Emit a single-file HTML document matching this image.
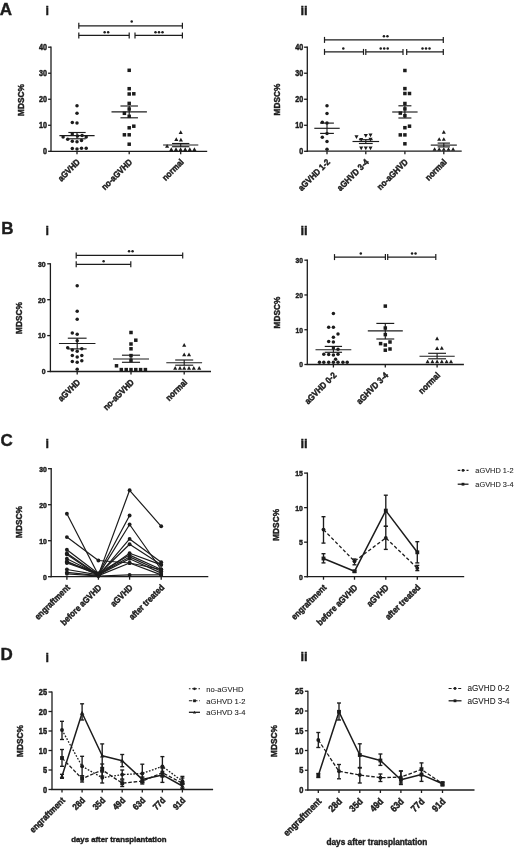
<!DOCTYPE html>
<html><head><meta charset="utf-8"><style>
html,body{margin:0;padding:0;background:#fff;}
body{width:520px;height:853px;overflow:hidden;}
svg{display:block;will-change:transform;filter:blur(0.35px);}
text{font-family:"Liberation Sans", sans-serif;fill:#1c1c1c;stroke:#1c1c1c;stroke-width:0.4px;}
</style></head><body>
<svg width="520" height="853" viewBox="0 0 520 853">
<rect width="520" height="853" fill="#fff"/>
<text x="-0.20" y="15.00" font-size="17.0" font-weight="bold" text-anchor="start">A</text>
<text x="45.40" y="15.20" font-size="12.5" font-weight="bold" text-anchor="start">i</text>
<text x="300.40" y="15.00" font-size="13" font-weight="bold" text-anchor="start">ii</text>
<text x="1.20" y="234.30" font-size="17.0" font-weight="bold" text-anchor="start">B</text>
<text x="45.60" y="234.60" font-size="12.5" font-weight="bold" text-anchor="start">i</text>
<text x="300.40" y="234.80" font-size="13" font-weight="bold" text-anchor="start">ii</text>
<text x="0.40" y="446.30" font-size="17.0" font-weight="bold" text-anchor="start">C</text>
<text x="45.60" y="447.60" font-size="12.5" font-weight="bold" text-anchor="start">i</text>
<text x="300.40" y="447.80" font-size="13" font-weight="bold" text-anchor="start">ii</text>
<text x="0.60" y="659.90" font-size="17.0" font-weight="bold" text-anchor="start">D</text>
<text x="45.60" y="662.00" font-size="12.5" font-weight="bold" text-anchor="start">i</text>
<text x="300.40" y="661.20" font-size="13" font-weight="bold" text-anchor="start">ii</text>
<line x1="51.00" y1="46.60" x2="51.00" y2="151.90" stroke="#1c1c1c" stroke-width="1.3"/>
<line x1="48.10" y1="47.20" x2="51.00" y2="47.20" stroke="#1c1c1c" stroke-width="1.3"/>
<text x="0" y="0" font-size="7.2" font-weight="bold" text-anchor="end" transform="translate(47.00 50.22) rotate(0) scale(1 1.17)">40</text>
<line x1="48.10" y1="73.23" x2="51.00" y2="73.23" stroke="#1c1c1c" stroke-width="1.3"/>
<text x="0" y="0" font-size="7.2" font-weight="bold" text-anchor="end" transform="translate(47.00 76.24) rotate(0) scale(1 1.17)">30</text>
<line x1="48.10" y1="99.25" x2="51.00" y2="99.25" stroke="#1c1c1c" stroke-width="1.3"/>
<text x="0" y="0" font-size="7.2" font-weight="bold" text-anchor="end" transform="translate(47.00 102.27) rotate(0) scale(1 1.17)">20</text>
<line x1="48.10" y1="125.28" x2="51.00" y2="125.28" stroke="#1c1c1c" stroke-width="1.3"/>
<text x="0" y="0" font-size="7.2" font-weight="bold" text-anchor="end" transform="translate(47.00 128.29) rotate(0) scale(1 1.17)">10</text>
<line x1="48.10" y1="151.30" x2="51.00" y2="151.30" stroke="#1c1c1c" stroke-width="1.3"/>
<text x="0" y="0" font-size="7.2" font-weight="bold" text-anchor="end" transform="translate(47.00 154.32) rotate(0) scale(1 1.17)">0</text>
<text x="0" y="0" font-size="8.3" font-weight="bold" text-anchor="middle" transform="translate(23.72 100.00) rotate(-90) scale(1 1.15)">MDSC%</text>
<line x1="50.40" y1="151.30" x2="207.20" y2="151.30" stroke="#1c1c1c" stroke-width="1.3"/>
<line x1="77.00" y1="151.30" x2="77.00" y2="154.30" stroke="#1c1c1c" stroke-width="1.3"/>
<line x1="129.20" y1="151.30" x2="129.20" y2="154.30" stroke="#1c1c1c" stroke-width="1.3"/>
<line x1="180.70" y1="151.30" x2="180.70" y2="154.30" stroke="#1c1c1c" stroke-width="1.3"/>
<text x="0" y="0" font-size="7.9" font-weight="bold" text-anchor="end" transform="translate(80.60 162.70) rotate(-45) scale(1 1.12)">aGVHD</text>
<text x="0" y="0" font-size="7.9" font-weight="bold" text-anchor="end" transform="translate(132.80 162.70) rotate(-45) scale(1 1.12)">no-aGVHD</text>
<text x="0" y="0" font-size="7.9" font-weight="bold" text-anchor="end" transform="translate(184.30 162.70) rotate(-45) scale(1 1.12)">normal</text>
<line x1="78.80" y1="25.80" x2="182.40" y2="25.80" stroke="#1c1c1c" stroke-width="1.2"/>
<line x1="78.80" y1="22.80" x2="78.80" y2="28.80" stroke="#1c1c1c" stroke-width="1.2"/>
<line x1="182.40" y1="22.80" x2="182.40" y2="28.80" stroke="#1c1c1c" stroke-width="1.2"/>
<line x1="78.80" y1="35.40" x2="129.20" y2="35.40" stroke="#1c1c1c" stroke-width="1.2"/>
<line x1="78.80" y1="32.40" x2="78.80" y2="38.40" stroke="#1c1c1c" stroke-width="1.2"/>
<line x1="129.20" y1="32.40" x2="129.20" y2="38.40" stroke="#1c1c1c" stroke-width="1.2"/>
<line x1="135.00" y1="35.40" x2="182.40" y2="35.40" stroke="#1c1c1c" stroke-width="1.2"/>
<line x1="135.00" y1="32.40" x2="135.00" y2="38.40" stroke="#1c1c1c" stroke-width="1.2"/>
<line x1="182.40" y1="32.40" x2="182.40" y2="38.40" stroke="#1c1c1c" stroke-width="1.2"/>
<circle cx="131.70" cy="21.60" r="1.25" fill="#1c1c1c"/>
<circle cx="104.65" cy="32.20" r="1.25" fill="#1c1c1c"/>
<circle cx="108.15" cy="32.20" r="1.25" fill="#1c1c1c"/>
<circle cx="155.50" cy="32.20" r="1.25" fill="#1c1c1c"/>
<circle cx="159.00" cy="32.20" r="1.25" fill="#1c1c1c"/>
<circle cx="162.50" cy="32.20" r="1.25" fill="#1c1c1c"/>
<circle cx="77.00" cy="105.70" r="1.75" fill="#1c1c1c"/>
<circle cx="77.00" cy="113.20" r="1.75" fill="#1c1c1c"/>
<circle cx="72.30" cy="122.50" r="1.75" fill="#1c1c1c"/>
<circle cx="77.00" cy="123.00" r="1.75" fill="#1c1c1c"/>
<circle cx="63.10" cy="137.10" r="1.75" fill="#1c1c1c"/>
<circle cx="67.70" cy="139.20" r="1.75" fill="#1c1c1c"/>
<circle cx="72.30" cy="134.00" r="1.75" fill="#1c1c1c"/>
<circle cx="77.50" cy="136.00" r="1.75" fill="#1c1c1c"/>
<circle cx="82.10" cy="135.40" r="1.75" fill="#1c1c1c"/>
<circle cx="86.20" cy="137.10" r="1.75" fill="#1c1c1c"/>
<circle cx="72.30" cy="141.20" r="1.75" fill="#1c1c1c"/>
<circle cx="77.00" cy="141.70" r="1.75" fill="#1c1c1c"/>
<circle cx="81.50" cy="140.60" r="1.75" fill="#1c1c1c"/>
<circle cx="72.30" cy="148.40" r="1.75" fill="#1c1c1c"/>
<circle cx="77.00" cy="148.90" r="1.75" fill="#1c1c1c"/>
<circle cx="81.50" cy="148.30" r="1.75" fill="#1c1c1c"/>
<circle cx="86.20" cy="148.30" r="1.75" fill="#1c1c1c"/>
<line x1="59.40" y1="135.60" x2="94.60" y2="135.60" stroke="#1c1c1c" stroke-width="1.15"/>
<line x1="68.35" y1="132.50" x2="85.65" y2="132.50" stroke="#1c1c1c" stroke-width="1.15"/>
<line x1="68.35" y1="138.80" x2="85.65" y2="138.80" stroke="#1c1c1c" stroke-width="1.15"/>
<line x1="77.00" y1="132.50" x2="77.00" y2="138.80" stroke="#1c1c1c" stroke-width="1.15"/>
<rect x="127.45" y="68.55" width="3.50" height="3.50" fill="#1c1c1c"/>
<rect x="127.45" y="86.95" width="3.50" height="3.50" fill="#1c1c1c"/>
<rect x="127.45" y="92.25" width="3.50" height="3.50" fill="#1c1c1c"/>
<rect x="132.05" y="92.05" width="3.50" height="3.50" fill="#1c1c1c"/>
<rect x="127.45" y="101.65" width="3.50" height="3.50" fill="#1c1c1c"/>
<rect x="127.45" y="107.25" width="3.50" height="3.50" fill="#1c1c1c"/>
<rect x="122.65" y="111.55" width="3.50" height="3.50" fill="#1c1c1c"/>
<rect x="127.45" y="114.55" width="3.50" height="3.50" fill="#1c1c1c"/>
<rect x="132.05" y="124.45" width="3.50" height="3.50" fill="#1c1c1c"/>
<rect x="127.45" y="126.05" width="3.50" height="3.50" fill="#1c1c1c"/>
<rect x="122.65" y="133.05" width="3.50" height="3.50" fill="#1c1c1c"/>
<rect x="127.45" y="133.05" width="3.50" height="3.50" fill="#1c1c1c"/>
<rect x="127.45" y="142.45" width="3.50" height="3.50" fill="#1c1c1c"/>
<line x1="111.50" y1="111.80" x2="146.90" y2="111.80" stroke="#1c1c1c" stroke-width="1.15"/>
<line x1="120.45" y1="106.00" x2="137.95" y2="106.00" stroke="#1c1c1c" stroke-width="1.15"/>
<line x1="120.45" y1="117.80" x2="137.95" y2="117.80" stroke="#1c1c1c" stroke-width="1.15"/>
<line x1="129.20" y1="106.00" x2="129.20" y2="117.80" stroke="#1c1c1c" stroke-width="1.15"/>
<polygon points="180.70,130.25 182.75,133.94 178.65,133.94" fill="#1c1c1c"/>
<polygon points="176.30,137.35 178.35,141.04 174.25,141.04" fill="#1c1c1c"/>
<polygon points="180.90,137.75 182.95,141.44 178.85,141.44" fill="#1c1c1c"/>
<polygon points="167.10,143.95 169.15,147.64 165.05,147.64" fill="#1c1c1c"/>
<polygon points="171.30,147.35 173.35,151.04 169.25,151.04" fill="#1c1c1c"/>
<polygon points="176.00,147.35 178.05,151.04 173.95,151.04" fill="#1c1c1c"/>
<polygon points="180.60,147.35 182.65,151.04 178.55,151.04" fill="#1c1c1c"/>
<polygon points="185.20,147.35 187.25,151.04 183.15,151.04" fill="#1c1c1c"/>
<polygon points="189.80,147.35 191.85,151.04 187.75,151.04" fill="#1c1c1c"/>
<polygon points="194.40,147.35 196.45,151.04 192.35,151.04" fill="#1c1c1c"/>
<line x1="163.10" y1="145.00" x2="198.30" y2="145.00" stroke="#1c1c1c" stroke-width="1.15"/>
<line x1="172.05" y1="143.50" x2="189.35" y2="143.50" stroke="#1c1c1c" stroke-width="1.15"/>
<line x1="172.05" y1="146.70" x2="189.35" y2="146.70" stroke="#1c1c1c" stroke-width="1.15"/>
<line x1="180.70" y1="143.50" x2="180.70" y2="146.70" stroke="#1c1c1c" stroke-width="1.15"/>
<line x1="307.30" y1="46.60" x2="307.30" y2="151.90" stroke="#1c1c1c" stroke-width="1.3"/>
<line x1="304.10" y1="47.20" x2="307.30" y2="47.20" stroke="#1c1c1c" stroke-width="1.3"/>
<text x="0" y="0" font-size="7.2" font-weight="bold" text-anchor="end" transform="translate(303.20 50.22) rotate(0) scale(1 1.17)">40</text>
<line x1="304.10" y1="73.23" x2="307.30" y2="73.23" stroke="#1c1c1c" stroke-width="1.3"/>
<text x="0" y="0" font-size="7.2" font-weight="bold" text-anchor="end" transform="translate(303.20 76.24) rotate(0) scale(1 1.17)">30</text>
<line x1="304.10" y1="99.25" x2="307.30" y2="99.25" stroke="#1c1c1c" stroke-width="1.3"/>
<text x="0" y="0" font-size="7.2" font-weight="bold" text-anchor="end" transform="translate(303.20 102.27) rotate(0) scale(1 1.17)">20</text>
<line x1="304.10" y1="125.28" x2="307.30" y2="125.28" stroke="#1c1c1c" stroke-width="1.3"/>
<text x="0" y="0" font-size="7.2" font-weight="bold" text-anchor="end" transform="translate(303.20 128.29) rotate(0) scale(1 1.17)">10</text>
<line x1="304.10" y1="151.30" x2="307.30" y2="151.30" stroke="#1c1c1c" stroke-width="1.3"/>
<text x="0" y="0" font-size="7.2" font-weight="bold" text-anchor="end" transform="translate(303.20 154.32) rotate(0) scale(1 1.17)">0</text>
<text x="0" y="0" font-size="8.3" font-weight="bold" text-anchor="middle" transform="translate(279.52 99.60) rotate(-90) scale(1 1.15)">MDSC%</text>
<line x1="306.70" y1="151.20" x2="461.70" y2="151.20" stroke="#1c1c1c" stroke-width="1.3"/>
<line x1="327.00" y1="151.20" x2="327.00" y2="154.20" stroke="#1c1c1c" stroke-width="1.3"/>
<line x1="365.80" y1="151.20" x2="365.80" y2="154.20" stroke="#1c1c1c" stroke-width="1.3"/>
<line x1="404.90" y1="151.20" x2="404.90" y2="154.20" stroke="#1c1c1c" stroke-width="1.3"/>
<line x1="443.80" y1="151.20" x2="443.80" y2="154.20" stroke="#1c1c1c" stroke-width="1.3"/>
<text x="0" y="0" font-size="7.9" font-weight="bold" text-anchor="end" transform="translate(330.60 162.60) rotate(-45) scale(1 1.12)">aGVHD 1-2</text>
<text x="0" y="0" font-size="7.9" font-weight="bold" text-anchor="end" transform="translate(369.40 162.60) rotate(-45) scale(1 1.12)">aGHVD 3-4</text>
<text x="0" y="0" font-size="7.9" font-weight="bold" text-anchor="end" transform="translate(408.50 162.60) rotate(-45) scale(1 1.12)">no-aGHVD</text>
<text x="0" y="0" font-size="7.9" font-weight="bold" text-anchor="end" transform="translate(447.40 162.60) rotate(-45) scale(1 1.12)">normal</text>
<line x1="324.50" y1="39.90" x2="443.30" y2="39.90" stroke="#1c1c1c" stroke-width="1.2"/>
<line x1="324.50" y1="36.90" x2="324.50" y2="42.90" stroke="#1c1c1c" stroke-width="1.2"/>
<line x1="443.30" y1="36.90" x2="443.30" y2="42.90" stroke="#1c1c1c" stroke-width="1.2"/>
<line x1="324.50" y1="51.90" x2="363.50" y2="51.90" stroke="#1c1c1c" stroke-width="1.2"/>
<line x1="324.50" y1="48.90" x2="324.50" y2="54.90" stroke="#1c1c1c" stroke-width="1.2"/>
<line x1="363.50" y1="48.90" x2="363.50" y2="54.90" stroke="#1c1c1c" stroke-width="1.2"/>
<line x1="365.80" y1="51.90" x2="403.00" y2="51.90" stroke="#1c1c1c" stroke-width="1.2"/>
<line x1="365.80" y1="48.90" x2="365.80" y2="54.90" stroke="#1c1c1c" stroke-width="1.2"/>
<line x1="403.00" y1="48.90" x2="403.00" y2="54.90" stroke="#1c1c1c" stroke-width="1.2"/>
<line x1="406.70" y1="51.90" x2="443.30" y2="51.90" stroke="#1c1c1c" stroke-width="1.2"/>
<line x1="406.70" y1="48.90" x2="406.70" y2="54.90" stroke="#1c1c1c" stroke-width="1.2"/>
<line x1="443.30" y1="48.90" x2="443.30" y2="54.90" stroke="#1c1c1c" stroke-width="1.2"/>
<circle cx="383.95" cy="36.30" r="1.25" fill="#1c1c1c"/>
<circle cx="387.45" cy="36.30" r="1.25" fill="#1c1c1c"/>
<circle cx="343.30" cy="48.40" r="1.25" fill="#1c1c1c"/>
<circle cx="380.70" cy="48.40" r="1.25" fill="#1c1c1c"/>
<circle cx="384.20" cy="48.40" r="1.25" fill="#1c1c1c"/>
<circle cx="387.70" cy="48.40" r="1.25" fill="#1c1c1c"/>
<circle cx="422.50" cy="48.40" r="1.25" fill="#1c1c1c"/>
<circle cx="426.00" cy="48.40" r="1.25" fill="#1c1c1c"/>
<circle cx="429.50" cy="48.40" r="1.25" fill="#1c1c1c"/>
<circle cx="327.00" cy="105.80" r="1.75" fill="#1c1c1c"/>
<circle cx="327.00" cy="113.40" r="1.75" fill="#1c1c1c"/>
<circle cx="322.30" cy="122.30" r="1.75" fill="#1c1c1c"/>
<circle cx="327.00" cy="123.10" r="1.75" fill="#1c1c1c"/>
<circle cx="327.00" cy="133.50" r="1.75" fill="#1c1c1c"/>
<circle cx="322.30" cy="137.20" r="1.75" fill="#1c1c1c"/>
<circle cx="327.00" cy="141.50" r="1.75" fill="#1c1c1c"/>
<circle cx="327.00" cy="149.20" r="1.75" fill="#1c1c1c"/>
<line x1="314.30" y1="128.30" x2="339.70" y2="128.30" stroke="#1c1c1c" stroke-width="1.15"/>
<line x1="320.10" y1="123.10" x2="333.90" y2="123.10" stroke="#1c1c1c" stroke-width="1.15"/>
<line x1="320.10" y1="133.40" x2="333.90" y2="133.40" stroke="#1c1c1c" stroke-width="1.15"/>
<line x1="327.00" y1="123.10" x2="327.00" y2="133.40" stroke="#1c1c1c" stroke-width="1.15"/>
<polygon points="356.50,138.95 358.55,135.26 354.45,135.26" fill="#1c1c1c"/>
<polygon points="365.80,137.75 367.85,134.06 363.75,134.06" fill="#1c1c1c"/>
<polygon points="370.50,137.15 372.55,133.46 368.45,133.46" fill="#1c1c1c"/>
<polygon points="361.20,141.75 363.25,138.06 359.15,138.06" fill="#1c1c1c"/>
<polygon points="370.50,141.55 372.55,137.86 368.45,137.86" fill="#1c1c1c"/>
<polygon points="361.20,150.25 363.25,146.56 359.15,146.56" fill="#1c1c1c"/>
<polygon points="365.80,150.25 367.85,146.56 363.75,146.56" fill="#1c1c1c"/>
<polygon points="370.50,150.25 372.55,146.56 368.45,146.56" fill="#1c1c1c"/>
<line x1="352.50" y1="141.50" x2="379.10" y2="141.50" stroke="#1c1c1c" stroke-width="1.15"/>
<line x1="358.90" y1="139.70" x2="372.70" y2="139.70" stroke="#1c1c1c" stroke-width="1.15"/>
<line x1="358.90" y1="143.50" x2="372.70" y2="143.50" stroke="#1c1c1c" stroke-width="1.15"/>
<line x1="365.80" y1="139.70" x2="365.80" y2="143.50" stroke="#1c1c1c" stroke-width="1.15"/>
<rect x="403.15" y="68.75" width="3.50" height="3.50" fill="#1c1c1c"/>
<rect x="403.15" y="86.85" width="3.50" height="3.50" fill="#1c1c1c"/>
<rect x="403.15" y="91.75" width="3.50" height="3.50" fill="#1c1c1c"/>
<rect x="407.75" y="91.75" width="3.50" height="3.50" fill="#1c1c1c"/>
<rect x="403.15" y="101.75" width="3.50" height="3.50" fill="#1c1c1c"/>
<rect x="403.15" y="107.15" width="3.50" height="3.50" fill="#1c1c1c"/>
<rect x="398.55" y="111.35" width="3.50" height="3.50" fill="#1c1c1c"/>
<rect x="403.15" y="113.95" width="3.50" height="3.50" fill="#1c1c1c"/>
<rect x="407.75" y="124.45" width="3.50" height="3.50" fill="#1c1c1c"/>
<rect x="403.15" y="125.95" width="3.50" height="3.50" fill="#1c1c1c"/>
<rect x="398.55" y="133.15" width="3.50" height="3.50" fill="#1c1c1c"/>
<rect x="403.15" y="133.15" width="3.50" height="3.50" fill="#1c1c1c"/>
<rect x="403.15" y="142.05" width="3.50" height="3.50" fill="#1c1c1c"/>
<line x1="392.20" y1="112.00" x2="417.60" y2="112.00" stroke="#1c1c1c" stroke-width="1.15"/>
<line x1="398.40" y1="105.80" x2="411.40" y2="105.80" stroke="#1c1c1c" stroke-width="1.15"/>
<line x1="398.40" y1="118.00" x2="411.40" y2="118.00" stroke="#1c1c1c" stroke-width="1.15"/>
<line x1="404.90" y1="105.80" x2="404.90" y2="118.00" stroke="#1c1c1c" stroke-width="1.15"/>
<polygon points="443.80,129.95 445.85,133.64 441.75,133.64" fill="#1c1c1c"/>
<polygon points="439.20,137.15 441.25,140.84 437.15,140.84" fill="#1c1c1c"/>
<polygon points="443.80,137.15 445.85,140.84 441.75,140.84" fill="#1c1c1c"/>
<polygon points="434.60,147.15 436.65,150.84 432.55,150.84" fill="#1c1c1c"/>
<polygon points="439.20,147.15 441.25,150.84 437.15,150.84" fill="#1c1c1c"/>
<polygon points="443.80,147.15 445.85,150.84 441.75,150.84" fill="#1c1c1c"/>
<polygon points="448.50,147.15 450.55,150.84 446.45,150.84" fill="#1c1c1c"/>
<polygon points="453.10,147.15 455.15,150.84 451.05,150.84" fill="#1c1c1c"/>
<line x1="430.75" y1="145.10" x2="456.85" y2="145.10" stroke="#1c1c1c" stroke-width="1.15"/>
<line x1="437.65" y1="143.10" x2="449.95" y2="143.10" stroke="#1c1c1c" stroke-width="1.15"/>
<line x1="437.65" y1="146.90" x2="449.95" y2="146.90" stroke="#1c1c1c" stroke-width="1.15"/>
<line x1="443.80" y1="143.10" x2="443.80" y2="146.90" stroke="#1c1c1c" stroke-width="1.15"/>
<line x1="50.40" y1="263.20" x2="50.40" y2="372.10" stroke="#1c1c1c" stroke-width="1.3"/>
<line x1="47.20" y1="263.80" x2="50.40" y2="263.80" stroke="#1c1c1c" stroke-width="1.3"/>
<text x="0" y="0" font-size="6.9" font-weight="bold" text-anchor="end" transform="translate(45.70 266.69) rotate(0) scale(1 1.17)">30</text>
<line x1="47.20" y1="299.70" x2="50.40" y2="299.70" stroke="#1c1c1c" stroke-width="1.3"/>
<text x="0" y="0" font-size="6.9" font-weight="bold" text-anchor="end" transform="translate(45.70 302.59) rotate(0) scale(1 1.17)">20</text>
<line x1="47.20" y1="335.60" x2="50.40" y2="335.60" stroke="#1c1c1c" stroke-width="1.3"/>
<text x="0" y="0" font-size="6.9" font-weight="bold" text-anchor="end" transform="translate(45.70 338.49) rotate(0) scale(1 1.17)">10</text>
<line x1="47.20" y1="371.50" x2="50.40" y2="371.50" stroke="#1c1c1c" stroke-width="1.3"/>
<text x="0" y="0" font-size="6.9" font-weight="bold" text-anchor="end" transform="translate(45.70 374.39) rotate(0) scale(1 1.17)">0</text>
<text x="0" y="0" font-size="8.3" font-weight="bold" text-anchor="middle" transform="translate(21.92 318.00) rotate(-90) scale(1 1.15)">MDSC%</text>
<line x1="49.80" y1="371.50" x2="211.00" y2="371.50" stroke="#1c1c1c" stroke-width="1.3"/>
<line x1="77.20" y1="371.50" x2="77.20" y2="374.50" stroke="#1c1c1c" stroke-width="1.3"/>
<line x1="131.00" y1="371.50" x2="131.00" y2="374.50" stroke="#1c1c1c" stroke-width="1.3"/>
<line x1="184.20" y1="371.50" x2="184.20" y2="374.50" stroke="#1c1c1c" stroke-width="1.3"/>
<text x="0" y="0" font-size="7.9" font-weight="bold" text-anchor="end" transform="translate(80.80 382.90) rotate(-45) scale(1 1.12)">aGVHD</text>
<text x="0" y="0" font-size="7.9" font-weight="bold" text-anchor="end" transform="translate(134.60 382.90) rotate(-45) scale(1 1.12)">no-aGVHD</text>
<text x="0" y="0" font-size="7.9" font-weight="bold" text-anchor="end" transform="translate(187.80 382.90) rotate(-45) scale(1 1.12)">normal</text>
<line x1="76.20" y1="255.40" x2="182.70" y2="255.40" stroke="#1c1c1c" stroke-width="1.2"/>
<line x1="76.20" y1="252.40" x2="76.20" y2="258.40" stroke="#1c1c1c" stroke-width="1.2"/>
<line x1="182.70" y1="252.40" x2="182.70" y2="258.40" stroke="#1c1c1c" stroke-width="1.2"/>
<line x1="76.20" y1="264.30" x2="130.80" y2="264.30" stroke="#1c1c1c" stroke-width="1.2"/>
<line x1="76.20" y1="261.30" x2="76.20" y2="267.30" stroke="#1c1c1c" stroke-width="1.2"/>
<line x1="130.80" y1="261.30" x2="130.80" y2="267.30" stroke="#1c1c1c" stroke-width="1.2"/>
<circle cx="129.05" cy="251.20" r="1.25" fill="#1c1c1c"/>
<circle cx="132.55" cy="251.20" r="1.25" fill="#1c1c1c"/>
<circle cx="103.60" cy="261.30" r="1.25" fill="#1c1c1c"/>
<circle cx="77.20" cy="285.70" r="1.75" fill="#1c1c1c"/>
<circle cx="77.20" cy="311.20" r="1.75" fill="#1c1c1c"/>
<circle cx="77.20" cy="319.20" r="1.75" fill="#1c1c1c"/>
<circle cx="72.30" cy="333.10" r="1.75" fill="#1c1c1c"/>
<circle cx="77.20" cy="334.30" r="1.75" fill="#1c1c1c"/>
<circle cx="77.20" cy="340.80" r="1.75" fill="#1c1c1c"/>
<circle cx="67.70" cy="347.70" r="1.75" fill="#1c1c1c"/>
<circle cx="72.30" cy="350.00" r="1.75" fill="#1c1c1c"/>
<circle cx="77.20" cy="351.20" r="1.75" fill="#1c1c1c"/>
<circle cx="81.80" cy="348.80" r="1.75" fill="#1c1c1c"/>
<circle cx="72.30" cy="355.40" r="1.75" fill="#1c1c1c"/>
<circle cx="77.20" cy="356.90" r="1.75" fill="#1c1c1c"/>
<circle cx="81.80" cy="355.40" r="1.75" fill="#1c1c1c"/>
<circle cx="72.30" cy="361.50" r="1.75" fill="#1c1c1c"/>
<circle cx="77.20" cy="362.30" r="1.75" fill="#1c1c1c"/>
<circle cx="81.80" cy="360.80" r="1.75" fill="#1c1c1c"/>
<circle cx="77.20" cy="369.20" r="1.75" fill="#1c1c1c"/>
<line x1="58.95" y1="343.50" x2="95.45" y2="343.50" stroke="#1c1c1c" stroke-width="1.15"/>
<line x1="67.80" y1="338.20" x2="86.60" y2="338.20" stroke="#1c1c1c" stroke-width="1.15"/>
<line x1="67.80" y1="348.90" x2="86.60" y2="348.90" stroke="#1c1c1c" stroke-width="1.15"/>
<line x1="77.20" y1="338.20" x2="77.20" y2="348.90" stroke="#1c1c1c" stroke-width="1.15"/>
<rect x="129.25" y="330.75" width="3.50" height="3.50" fill="#1c1c1c"/>
<rect x="134.05" y="338.45" width="3.50" height="3.50" fill="#1c1c1c"/>
<rect x="129.25" y="342.25" width="3.50" height="3.50" fill="#1c1c1c"/>
<rect x="129.25" y="347.05" width="3.50" height="3.50" fill="#1c1c1c"/>
<rect x="129.25" y="353.85" width="3.50" height="3.50" fill="#1c1c1c"/>
<rect x="129.25" y="358.65" width="3.50" height="3.50" fill="#1c1c1c"/>
<rect x="114.75" y="364.05" width="3.50" height="3.50" fill="#1c1c1c"/>
<rect x="119.55" y="367.85" width="3.50" height="3.50" fill="#1c1c1c"/>
<rect x="124.45" y="367.85" width="3.50" height="3.50" fill="#1c1c1c"/>
<rect x="129.25" y="367.85" width="3.50" height="3.50" fill="#1c1c1c"/>
<rect x="134.05" y="367.85" width="3.50" height="3.50" fill="#1c1c1c"/>
<rect x="138.85" y="367.85" width="3.50" height="3.50" fill="#1c1c1c"/>
<rect x="143.65" y="367.85" width="3.50" height="3.50" fill="#1c1c1c"/>
<line x1="112.95" y1="359.00" x2="149.05" y2="359.00" stroke="#1c1c1c" stroke-width="1.15"/>
<line x1="121.95" y1="355.20" x2="140.05" y2="355.20" stroke="#1c1c1c" stroke-width="1.15"/>
<line x1="121.95" y1="362.30" x2="140.05" y2="362.30" stroke="#1c1c1c" stroke-width="1.15"/>
<line x1="131.00" y1="355.20" x2="131.00" y2="362.30" stroke="#1c1c1c" stroke-width="1.15"/>
<polygon points="184.20,342.95 186.25,346.64 182.15,346.64" fill="#1c1c1c"/>
<polygon points="184.20,352.55 186.25,356.24 182.15,356.24" fill="#1c1c1c"/>
<polygon points="189.00,352.55 191.05,356.24 186.95,356.24" fill="#1c1c1c"/>
<polygon points="175.20,365.95 177.25,369.64 173.15,369.64" fill="#1c1c1c"/>
<polygon points="180.00,365.95 182.05,369.64 177.95,369.64" fill="#1c1c1c"/>
<polygon points="184.20,365.95 186.25,369.64 182.15,369.64" fill="#1c1c1c"/>
<polygon points="189.00,365.95 191.05,369.64 186.95,369.64" fill="#1c1c1c"/>
<polygon points="193.80,365.95 195.85,369.64 191.75,369.64" fill="#1c1c1c"/>
<polygon points="199.20,365.95 201.25,369.64 197.15,369.64" fill="#1c1c1c"/>
<line x1="166.30" y1="362.70" x2="202.10" y2="362.70" stroke="#1c1c1c" stroke-width="1.15"/>
<line x1="175.20" y1="360.00" x2="193.20" y2="360.00" stroke="#1c1c1c" stroke-width="1.15"/>
<line x1="175.20" y1="365.20" x2="193.20" y2="365.20" stroke="#1c1c1c" stroke-width="1.15"/>
<line x1="184.20" y1="360.00" x2="184.20" y2="365.20" stroke="#1c1c1c" stroke-width="1.15"/>
<line x1="307.30" y1="259.59" x2="307.30" y2="365.10" stroke="#1c1c1c" stroke-width="1.3"/>
<line x1="304.40" y1="260.19" x2="307.30" y2="260.19" stroke="#1c1c1c" stroke-width="1.3"/>
<text x="0" y="0" font-size="6.7" font-weight="bold" text-anchor="end" transform="translate(302.90 263.00) rotate(0) scale(1 1.17)">30</text>
<line x1="304.40" y1="294.96" x2="307.30" y2="294.96" stroke="#1c1c1c" stroke-width="1.3"/>
<text x="0" y="0" font-size="6.7" font-weight="bold" text-anchor="end" transform="translate(302.90 297.77) rotate(0) scale(1 1.17)">20</text>
<line x1="304.40" y1="329.73" x2="307.30" y2="329.73" stroke="#1c1c1c" stroke-width="1.3"/>
<text x="0" y="0" font-size="6.7" font-weight="bold" text-anchor="end" transform="translate(302.90 332.54) rotate(0) scale(1 1.17)">10</text>
<line x1="304.40" y1="364.50" x2="307.30" y2="364.50" stroke="#1c1c1c" stroke-width="1.3"/>
<text x="0" y="0" font-size="6.7" font-weight="bold" text-anchor="end" transform="translate(302.90 367.31) rotate(0) scale(1 1.17)">0</text>
<text x="0" y="0" font-size="8.3" font-weight="bold" text-anchor="middle" transform="translate(280.12 312.60) rotate(-90) scale(1 1.15)">MDSC%</text>
<line x1="306.70" y1="364.50" x2="463.90" y2="364.50" stroke="#1c1c1c" stroke-width="1.3"/>
<line x1="333.40" y1="364.50" x2="333.40" y2="367.50" stroke="#1c1c1c" stroke-width="1.3"/>
<line x1="385.30" y1="364.50" x2="385.30" y2="367.50" stroke="#1c1c1c" stroke-width="1.3"/>
<line x1="437.10" y1="364.50" x2="437.10" y2="367.50" stroke="#1c1c1c" stroke-width="1.3"/>
<text x="0" y="0" font-size="7.9" font-weight="bold" text-anchor="end" transform="translate(337.00 375.90) rotate(-45) scale(1 1.12)">aGVHD 0-2</text>
<text x="0" y="0" font-size="7.9" font-weight="bold" text-anchor="end" transform="translate(388.90 375.90) rotate(-45) scale(1 1.12)">aGHVD 3-4</text>
<text x="0" y="0" font-size="7.9" font-weight="bold" text-anchor="end" transform="translate(440.70 375.90) rotate(-45) scale(1 1.12)">normal</text>
<line x1="334.50" y1="257.10" x2="385.40" y2="257.10" stroke="#1c1c1c" stroke-width="1.2"/>
<line x1="334.50" y1="254.10" x2="334.50" y2="260.10" stroke="#1c1c1c" stroke-width="1.2"/>
<line x1="385.40" y1="254.10" x2="385.40" y2="260.10" stroke="#1c1c1c" stroke-width="1.2"/>
<line x1="387.70" y1="257.10" x2="435.80" y2="257.10" stroke="#1c1c1c" stroke-width="1.2"/>
<line x1="387.70" y1="254.10" x2="387.70" y2="260.10" stroke="#1c1c1c" stroke-width="1.2"/>
<line x1="435.80" y1="254.10" x2="435.80" y2="260.10" stroke="#1c1c1c" stroke-width="1.2"/>
<circle cx="360.80" cy="253.60" r="1.25" fill="#1c1c1c"/>
<circle cx="412.05" cy="253.60" r="1.25" fill="#1c1c1c"/>
<circle cx="415.55" cy="253.60" r="1.25" fill="#1c1c1c"/>
<circle cx="333.40" cy="313.50" r="1.75" fill="#1c1c1c"/>
<circle cx="328.70" cy="327.20" r="1.75" fill="#1c1c1c"/>
<circle cx="333.40" cy="327.20" r="1.75" fill="#1c1c1c"/>
<circle cx="338.00" cy="334.10" r="1.75" fill="#1c1c1c"/>
<circle cx="333.40" cy="337.20" r="1.75" fill="#1c1c1c"/>
<circle cx="328.70" cy="341.50" r="1.75" fill="#1c1c1c"/>
<circle cx="333.40" cy="342.00" r="1.75" fill="#1c1c1c"/>
<circle cx="333.40" cy="348.10" r="1.75" fill="#1c1c1c"/>
<circle cx="338.00" cy="349.30" r="1.75" fill="#1c1c1c"/>
<circle cx="323.80" cy="354.20" r="1.75" fill="#1c1c1c"/>
<circle cx="328.70" cy="354.50" r="1.75" fill="#1c1c1c"/>
<circle cx="333.40" cy="355.00" r="1.75" fill="#1c1c1c"/>
<circle cx="338.00" cy="354.20" r="1.75" fill="#1c1c1c"/>
<circle cx="335.60" cy="359.20" r="1.75" fill="#1c1c1c"/>
<circle cx="319.50" cy="362.30" r="1.75" fill="#1c1c1c"/>
<circle cx="323.80" cy="362.30" r="1.75" fill="#1c1c1c"/>
<circle cx="328.70" cy="362.30" r="1.75" fill="#1c1c1c"/>
<circle cx="333.40" cy="362.30" r="1.75" fill="#1c1c1c"/>
<circle cx="338.00" cy="362.30" r="1.75" fill="#1c1c1c"/>
<circle cx="342.90" cy="362.30" r="1.75" fill="#1c1c1c"/>
<circle cx="347.20" cy="362.30" r="1.75" fill="#1c1c1c"/>
<line x1="315.50" y1="349.70" x2="351.30" y2="349.70" stroke="#1c1c1c" stroke-width="1.15"/>
<line x1="324.75" y1="346.40" x2="342.05" y2="346.40" stroke="#1c1c1c" stroke-width="1.15"/>
<line x1="324.75" y1="352.30" x2="342.05" y2="352.30" stroke="#1c1c1c" stroke-width="1.15"/>
<line x1="333.40" y1="346.40" x2="333.40" y2="352.30" stroke="#1c1c1c" stroke-width="1.15"/>
<rect x="383.55" y="304.35" width="3.50" height="3.50" fill="#1c1c1c"/>
<rect x="383.55" y="326.25" width="3.50" height="3.50" fill="#1c1c1c"/>
<rect x="383.55" y="332.85" width="3.50" height="3.50" fill="#1c1c1c"/>
<rect x="378.85" y="341.85" width="3.50" height="3.50" fill="#1c1c1c"/>
<rect x="388.25" y="340.25" width="3.50" height="3.50" fill="#1c1c1c"/>
<rect x="383.55" y="343.25" width="3.50" height="3.50" fill="#1c1c1c"/>
<rect x="383.55" y="348.45" width="3.50" height="3.50" fill="#1c1c1c"/>
<rect x="388.25" y="347.25" width="3.50" height="3.50" fill="#1c1c1c"/>
<line x1="367.80" y1="330.80" x2="402.80" y2="330.80" stroke="#1c1c1c" stroke-width="1.15"/>
<line x1="376.35" y1="323.40" x2="394.25" y2="323.40" stroke="#1c1c1c" stroke-width="1.15"/>
<line x1="376.35" y1="339.00" x2="394.25" y2="339.00" stroke="#1c1c1c" stroke-width="1.15"/>
<line x1="385.30" y1="323.40" x2="385.30" y2="339.00" stroke="#1c1c1c" stroke-width="1.15"/>
<polygon points="437.10,336.55 439.15,340.24 435.05,340.24" fill="#1c1c1c"/>
<polygon points="437.10,346.35 439.15,350.04 435.05,350.04" fill="#1c1c1c"/>
<polygon points="441.80,346.05 443.85,349.74 439.75,349.74" fill="#1c1c1c"/>
<polygon points="427.60,359.55 429.65,363.24 425.55,363.24" fill="#1c1c1c"/>
<polygon points="432.40,359.55 434.45,363.24 430.35,363.24" fill="#1c1c1c"/>
<polygon points="437.10,359.55 439.15,363.24 435.05,363.24" fill="#1c1c1c"/>
<polygon points="441.80,359.55 443.85,363.24 439.75,363.24" fill="#1c1c1c"/>
<polygon points="446.60,359.55 448.65,363.24 444.55,363.24" fill="#1c1c1c"/>
<polygon points="451.00,359.55 453.05,363.24 448.95,363.24" fill="#1c1c1c"/>
<line x1="419.50" y1="356.20" x2="454.70" y2="356.20" stroke="#1c1c1c" stroke-width="1.15"/>
<line x1="428.20" y1="353.30" x2="446.00" y2="353.30" stroke="#1c1c1c" stroke-width="1.15"/>
<line x1="428.20" y1="358.80" x2="446.00" y2="358.80" stroke="#1c1c1c" stroke-width="1.15"/>
<line x1="437.10" y1="353.30" x2="437.10" y2="358.80" stroke="#1c1c1c" stroke-width="1.15"/>
<line x1="51.20" y1="468.10" x2="51.20" y2="577.30" stroke="#1c1c1c" stroke-width="1.3"/>
<line x1="48.00" y1="468.70" x2="51.20" y2="468.70" stroke="#1c1c1c" stroke-width="1.3"/>
<text x="0" y="0" font-size="6.9" font-weight="bold" text-anchor="end" transform="translate(46.80 471.59) rotate(0) scale(1 1.17)">30</text>
<line x1="48.00" y1="504.70" x2="51.20" y2="504.70" stroke="#1c1c1c" stroke-width="1.3"/>
<text x="0" y="0" font-size="6.9" font-weight="bold" text-anchor="end" transform="translate(46.80 507.59) rotate(0) scale(1 1.17)">20</text>
<line x1="48.00" y1="540.70" x2="51.20" y2="540.70" stroke="#1c1c1c" stroke-width="1.3"/>
<text x="0" y="0" font-size="6.9" font-weight="bold" text-anchor="end" transform="translate(46.80 543.59) rotate(0) scale(1 1.17)">10</text>
<line x1="48.00" y1="576.70" x2="51.20" y2="576.70" stroke="#1c1c1c" stroke-width="1.3"/>
<text x="0" y="0" font-size="6.9" font-weight="bold" text-anchor="end" transform="translate(46.80 579.59) rotate(0) scale(1 1.17)">0</text>
<text x="0" y="0" font-size="8.3" font-weight="bold" text-anchor="middle" transform="translate(22.22 522.00) rotate(-90) scale(1 1.15)">MDSC%</text>
<line x1="50.60" y1="576.70" x2="208.30" y2="576.70" stroke="#1c1c1c" stroke-width="1.3"/>
<line x1="66.90" y1="576.70" x2="66.90" y2="579.70" stroke="#1c1c1c" stroke-width="1.3"/>
<line x1="98.40" y1="576.70" x2="98.40" y2="579.70" stroke="#1c1c1c" stroke-width="1.3"/>
<line x1="129.60" y1="576.70" x2="129.60" y2="579.70" stroke="#1c1c1c" stroke-width="1.3"/>
<line x1="161.20" y1="576.70" x2="161.20" y2="579.70" stroke="#1c1c1c" stroke-width="1.3"/>
<text x="0" y="0" font-size="7.9" font-weight="bold" text-anchor="end" transform="translate(70.50 588.10) rotate(-45) scale(1 1.12)">engraftment</text>
<text x="0" y="0" font-size="7.9" font-weight="bold" text-anchor="end" transform="translate(102.00 588.10) rotate(-45) scale(1 1.12)">before aGVHD</text>
<text x="0" y="0" font-size="7.9" font-weight="bold" text-anchor="end" transform="translate(133.20 588.10) rotate(-45) scale(1 1.12)">aGVHD</text>
<text x="0" y="0" font-size="7.9" font-weight="bold" text-anchor="end" transform="translate(164.80 588.10) rotate(-45) scale(1 1.12)">after treated</text>
<polyline points="66.90,513.70 98.40,574.90 129.60,490.30 161.20,526.30" fill="none" stroke="#1c1c1c" stroke-width="1.2" stroke-linejoin="round"/>
<circle cx="66.90" cy="513.70" r="1.93" fill="#1c1c1c"/>
<circle cx="98.40" cy="574.90" r="1.93" fill="#1c1c1c"/>
<circle cx="129.60" cy="490.30" r="1.93" fill="#1c1c1c"/>
<circle cx="161.20" cy="526.30" r="1.93" fill="#1c1c1c"/>
<polyline points="66.90,537.10 98.40,560.50 129.60,563.02 161.20,569.50" fill="none" stroke="#1c1c1c" stroke-width="1.2" stroke-linejoin="round"/>
<circle cx="66.90" cy="537.10" r="1.93" fill="#1c1c1c"/>
<circle cx="98.40" cy="560.50" r="1.93" fill="#1c1c1c"/>
<circle cx="129.60" cy="563.02" r="1.93" fill="#1c1c1c"/>
<circle cx="161.20" cy="569.50" r="1.93" fill="#1c1c1c"/>
<polyline points="66.90,549.70 98.40,573.82 129.60,515.50" fill="none" stroke="#1c1c1c" stroke-width="1.2" stroke-linejoin="round"/>
<circle cx="66.90" cy="549.70" r="1.93" fill="#1c1c1c"/>
<circle cx="98.40" cy="573.82" r="1.93" fill="#1c1c1c"/>
<circle cx="129.60" cy="515.50" r="1.93" fill="#1c1c1c"/>
<polyline points="66.90,553.30 98.40,574.90 129.60,524.50 161.20,569.50" fill="none" stroke="#1c1c1c" stroke-width="1.2" stroke-linejoin="round"/>
<circle cx="66.90" cy="553.30" r="1.93" fill="#1c1c1c"/>
<circle cx="98.40" cy="574.90" r="1.93" fill="#1c1c1c"/>
<circle cx="129.60" cy="524.50" r="1.93" fill="#1c1c1c"/>
<circle cx="161.20" cy="569.50" r="1.93" fill="#1c1c1c"/>
<polyline points="66.90,554.38 98.40,575.62 129.60,538.90 161.20,562.30" fill="none" stroke="#1c1c1c" stroke-width="1.2" stroke-linejoin="round"/>
<circle cx="66.90" cy="554.38" r="1.93" fill="#1c1c1c"/>
<circle cx="98.40" cy="575.62" r="1.93" fill="#1c1c1c"/>
<circle cx="129.60" cy="538.90" r="1.93" fill="#1c1c1c"/>
<circle cx="161.20" cy="562.30" r="1.93" fill="#1c1c1c"/>
<polyline points="66.90,558.70 98.40,574.54 129.60,544.30 161.20,564.82" fill="none" stroke="#1c1c1c" stroke-width="1.2" stroke-linejoin="round"/>
<circle cx="66.90" cy="558.70" r="1.93" fill="#1c1c1c"/>
<circle cx="98.40" cy="574.54" r="1.93" fill="#1c1c1c"/>
<circle cx="129.60" cy="544.30" r="1.93" fill="#1c1c1c"/>
<circle cx="161.20" cy="564.82" r="1.93" fill="#1c1c1c"/>
<polyline points="66.90,561.22 98.40,575.26 129.60,553.30 161.20,564.82" fill="none" stroke="#1c1c1c" stroke-width="1.2" stroke-linejoin="round"/>
<circle cx="66.90" cy="561.22" r="1.93" fill="#1c1c1c"/>
<circle cx="98.40" cy="575.26" r="1.93" fill="#1c1c1c"/>
<circle cx="129.60" cy="553.30" r="1.93" fill="#1c1c1c"/>
<circle cx="161.20" cy="564.82" r="1.93" fill="#1c1c1c"/>
<polyline points="66.90,562.30 98.40,573.10 129.60,555.10 161.20,569.50" fill="none" stroke="#1c1c1c" stroke-width="1.2" stroke-linejoin="round"/>
<circle cx="66.90" cy="562.30" r="1.93" fill="#1c1c1c"/>
<circle cx="98.40" cy="573.10" r="1.93" fill="#1c1c1c"/>
<circle cx="129.60" cy="555.10" r="1.93" fill="#1c1c1c"/>
<circle cx="161.20" cy="569.50" r="1.93" fill="#1c1c1c"/>
<polyline points="66.90,569.50 98.40,574.90 129.60,558.70 161.20,573.10" fill="none" stroke="#1c1c1c" stroke-width="1.2" stroke-linejoin="round"/>
<circle cx="66.90" cy="569.50" r="1.93" fill="#1c1c1c"/>
<circle cx="98.40" cy="574.90" r="1.93" fill="#1c1c1c"/>
<circle cx="129.60" cy="558.70" r="1.93" fill="#1c1c1c"/>
<circle cx="161.20" cy="573.10" r="1.93" fill="#1c1c1c"/>
<polyline points="66.90,572.38 98.40,575.62 129.60,563.02 161.20,574.90" fill="none" stroke="#1c1c1c" stroke-width="1.2" stroke-linejoin="round"/>
<circle cx="66.90" cy="572.38" r="1.93" fill="#1c1c1c"/>
<circle cx="98.40" cy="575.62" r="1.93" fill="#1c1c1c"/>
<circle cx="129.60" cy="563.02" r="1.93" fill="#1c1c1c"/>
<circle cx="161.20" cy="574.90" r="1.93" fill="#1c1c1c"/>
<polyline points="66.90,573.82 98.40,575.98 129.60,574.90 161.20,574.90" fill="none" stroke="#1c1c1c" stroke-width="1.2" stroke-linejoin="round"/>
<circle cx="66.90" cy="573.82" r="1.93" fill="#1c1c1c"/>
<circle cx="98.40" cy="575.98" r="1.93" fill="#1c1c1c"/>
<circle cx="129.60" cy="574.90" r="1.93" fill="#1c1c1c"/>
<circle cx="161.20" cy="574.90" r="1.93" fill="#1c1c1c"/>
<polyline points="66.90,563.02 98.40,574.18 129.60,556.90 161.20,571.30" fill="none" stroke="#1c1c1c" stroke-width="1.2" stroke-linejoin="round"/>
<circle cx="66.90" cy="563.02" r="1.93" fill="#1c1c1c"/>
<circle cx="98.40" cy="574.18" r="1.93" fill="#1c1c1c"/>
<circle cx="129.60" cy="556.90" r="1.93" fill="#1c1c1c"/>
<circle cx="161.20" cy="571.30" r="1.93" fill="#1c1c1c"/>
<line x1="307.40" y1="472.50" x2="307.40" y2="577.30" stroke="#1c1c1c" stroke-width="1.3"/>
<line x1="304.10" y1="473.10" x2="307.40" y2="473.10" stroke="#1c1c1c" stroke-width="1.3"/>
<text x="0" y="0" font-size="6.9" font-weight="bold" text-anchor="end" transform="translate(302.90 475.99) rotate(0) scale(1 1.17)">15</text>
<line x1="304.10" y1="507.63" x2="307.40" y2="507.63" stroke="#1c1c1c" stroke-width="1.3"/>
<text x="0" y="0" font-size="6.9" font-weight="bold" text-anchor="end" transform="translate(302.90 510.52) rotate(0) scale(1 1.17)">10</text>
<line x1="304.10" y1="542.17" x2="307.40" y2="542.17" stroke="#1c1c1c" stroke-width="1.3"/>
<text x="0" y="0" font-size="6.9" font-weight="bold" text-anchor="end" transform="translate(302.90 545.06) rotate(0) scale(1 1.17)">5</text>
<line x1="304.10" y1="576.70" x2="307.40" y2="576.70" stroke="#1c1c1c" stroke-width="1.3"/>
<text x="0" y="0" font-size="6.9" font-weight="bold" text-anchor="end" transform="translate(302.90 579.59) rotate(0) scale(1 1.17)">0</text>
<text x="0" y="0" font-size="8.3" font-weight="bold" text-anchor="middle" transform="translate(279.22 524.90) rotate(-90) scale(1 1.15)">MDSC%</text>
<line x1="306.80" y1="576.70" x2="464.20" y2="576.70" stroke="#1c1c1c" stroke-width="1.3"/>
<line x1="323.50" y1="576.70" x2="323.50" y2="579.70" stroke="#1c1c1c" stroke-width="1.3"/>
<line x1="354.50" y1="576.70" x2="354.50" y2="579.70" stroke="#1c1c1c" stroke-width="1.3"/>
<line x1="385.80" y1="576.70" x2="385.80" y2="579.70" stroke="#1c1c1c" stroke-width="1.3"/>
<line x1="417.30" y1="576.70" x2="417.30" y2="579.70" stroke="#1c1c1c" stroke-width="1.3"/>
<text x="0" y="0" font-size="7.9" font-weight="bold" text-anchor="end" transform="translate(327.10 588.10) rotate(-45) scale(1 1.12)">engraftment</text>
<text x="0" y="0" font-size="7.9" font-weight="bold" text-anchor="end" transform="translate(358.10 588.10) rotate(-45) scale(1 1.12)">before aGVHD</text>
<text x="0" y="0" font-size="7.9" font-weight="bold" text-anchor="end" transform="translate(389.40 588.10) rotate(-45) scale(1 1.12)">aGVHD</text>
<text x="0" y="0" font-size="7.9" font-weight="bold" text-anchor="end" transform="translate(420.90 588.10) rotate(-45) scale(1 1.12)">after treated</text>
<line x1="323.50" y1="516.70" x2="323.50" y2="543.10" stroke="#1c1c1c" stroke-width="1.35"/>
<line x1="321.50" y1="516.70" x2="325.50" y2="516.70" stroke="#1c1c1c" stroke-width="1.35"/>
<line x1="321.50" y1="543.10" x2="325.50" y2="543.10" stroke="#1c1c1c" stroke-width="1.35"/>
<line x1="323.50" y1="553.70" x2="323.50" y2="562.90" stroke="#1c1c1c" stroke-width="1.35"/>
<line x1="321.50" y1="553.70" x2="325.50" y2="553.70" stroke="#1c1c1c" stroke-width="1.35"/>
<line x1="321.50" y1="562.90" x2="325.50" y2="562.90" stroke="#1c1c1c" stroke-width="1.35"/>
<line x1="354.50" y1="559.00" x2="354.50" y2="564.80" stroke="#1c1c1c" stroke-width="1.35"/>
<line x1="352.50" y1="559.00" x2="356.50" y2="559.00" stroke="#1c1c1c" stroke-width="1.35"/>
<line x1="352.50" y1="564.80" x2="356.50" y2="564.80" stroke="#1c1c1c" stroke-width="1.35"/>
<line x1="354.50" y1="570.50" x2="354.50" y2="572.20" stroke="#1c1c1c" stroke-width="1.35"/>
<line x1="352.50" y1="570.50" x2="356.50" y2="570.50" stroke="#1c1c1c" stroke-width="1.35"/>
<line x1="352.50" y1="572.20" x2="356.50" y2="572.20" stroke="#1c1c1c" stroke-width="1.35"/>
<line x1="385.80" y1="526.30" x2="385.80" y2="549.40" stroke="#1c1c1c" stroke-width="1.35"/>
<line x1="383.80" y1="526.30" x2="387.80" y2="526.30" stroke="#1c1c1c" stroke-width="1.35"/>
<line x1="383.80" y1="549.40" x2="387.80" y2="549.40" stroke="#1c1c1c" stroke-width="1.35"/>
<line x1="385.80" y1="495.20" x2="385.80" y2="526.30" stroke="#1c1c1c" stroke-width="1.35"/>
<line x1="383.80" y1="495.20" x2="387.80" y2="495.20" stroke="#1c1c1c" stroke-width="1.35"/>
<line x1="383.80" y1="526.30" x2="387.80" y2="526.30" stroke="#1c1c1c" stroke-width="1.35"/>
<line x1="417.30" y1="565.40" x2="417.30" y2="570.60" stroke="#1c1c1c" stroke-width="1.35"/>
<line x1="415.30" y1="565.40" x2="419.30" y2="565.40" stroke="#1c1c1c" stroke-width="1.35"/>
<line x1="415.30" y1="570.60" x2="419.30" y2="570.60" stroke="#1c1c1c" stroke-width="1.35"/>
<line x1="417.30" y1="541.70" x2="417.30" y2="562.90" stroke="#1c1c1c" stroke-width="1.35"/>
<line x1="415.30" y1="541.70" x2="419.30" y2="541.70" stroke="#1c1c1c" stroke-width="1.35"/>
<line x1="415.30" y1="562.90" x2="419.30" y2="562.90" stroke="#1c1c1c" stroke-width="1.35"/>
<polyline points="323.50,529.60 354.50,561.30 385.80,537.90 417.30,568.10" fill="none" stroke="#1c1c1c" stroke-width="1.3" stroke-linejoin="round" stroke-dasharray="3.4,2.2"/>
<polyline points="323.50,558.50 354.50,571.30 385.80,510.60 417.30,552.30" fill="none" stroke="#1c1c1c" stroke-width="1.5" stroke-linejoin="round"/>
<circle cx="323.50" cy="529.60" r="1.93" fill="#1c1c1c"/>
<circle cx="354.50" cy="561.30" r="1.93" fill="#1c1c1c"/>
<circle cx="385.80" cy="537.90" r="1.93" fill="#1c1c1c"/>
<circle cx="417.30" cy="568.10" r="1.93" fill="#1c1c1c"/>
<rect x="321.57" y="556.58" width="3.85" height="3.85" fill="#1c1c1c"/>
<rect x="352.57" y="569.38" width="3.85" height="3.85" fill="#1c1c1c"/>
<rect x="383.88" y="508.68" width="3.85" height="3.85" fill="#1c1c1c"/>
<rect x="415.38" y="550.38" width="3.85" height="3.85" fill="#1c1c1c"/>
<line x1="457.70" y1="470.40" x2="468.50" y2="470.40" stroke="#1c1c1c" stroke-width="1.1" stroke-dasharray="2.6,1.8"/>
<circle cx="463.00" cy="470.40" r="1.40" fill="#1c1c1c"/>
<line x1="457.70" y1="484.20" x2="468.50" y2="484.20" stroke="#1c1c1c" stroke-width="1.3"/>
<rect x="461.60" y="482.80" width="2.80" height="2.80" fill="#1c1c1c"/>
<text x="475.30" y="473.00" font-size="7.4" font-weight="normal" text-anchor="start" style="stroke-width:0.08px">aGVHD 1-2</text>
<text x="475.30" y="486.80" font-size="7.4" font-weight="normal" text-anchor="start" style="stroke-width:0.08px">aGVHD 3-4</text>
<line x1="52.00" y1="691.40" x2="52.00" y2="790.10" stroke="#1c1c1c" stroke-width="1.3"/>
<line x1="48.50" y1="692.00" x2="52.00" y2="692.00" stroke="#1c1c1c" stroke-width="1.3"/>
<text x="0" y="0" font-size="7.4" font-weight="bold" text-anchor="end" transform="translate(47.00 695.10) rotate(0) scale(1 1.17)">25</text>
<line x1="48.50" y1="711.50" x2="52.00" y2="711.50" stroke="#1c1c1c" stroke-width="1.3"/>
<text x="0" y="0" font-size="7.4" font-weight="bold" text-anchor="end" transform="translate(47.00 714.60) rotate(0) scale(1 1.17)">20</text>
<line x1="48.50" y1="731.00" x2="52.00" y2="731.00" stroke="#1c1c1c" stroke-width="1.3"/>
<text x="0" y="0" font-size="7.4" font-weight="bold" text-anchor="end" transform="translate(47.00 734.10) rotate(0) scale(1 1.17)">15</text>
<line x1="48.50" y1="750.50" x2="52.00" y2="750.50" stroke="#1c1c1c" stroke-width="1.3"/>
<text x="0" y="0" font-size="7.4" font-weight="bold" text-anchor="end" transform="translate(47.00 753.60) rotate(0) scale(1 1.17)">10</text>
<line x1="48.50" y1="770.00" x2="52.00" y2="770.00" stroke="#1c1c1c" stroke-width="1.3"/>
<text x="0" y="0" font-size="7.4" font-weight="bold" text-anchor="end" transform="translate(47.00 773.10) rotate(0) scale(1 1.17)">5</text>
<line x1="48.50" y1="789.50" x2="52.00" y2="789.50" stroke="#1c1c1c" stroke-width="1.3"/>
<text x="0" y="0" font-size="7.4" font-weight="bold" text-anchor="end" transform="translate(47.00 792.60) rotate(0) scale(1 1.17)">0</text>
<text x="0" y="0" font-size="8.3" font-weight="bold" text-anchor="middle" transform="translate(22.92 741.00) rotate(-90) scale(1 1.15)">MDSC%</text>
<line x1="51.40" y1="789.50" x2="213.10" y2="789.50" stroke="#1c1c1c" stroke-width="1.3"/>
<line x1="62.00" y1="789.50" x2="62.00" y2="792.50" stroke="#1c1c1c" stroke-width="1.3"/>
<line x1="82.10" y1="789.50" x2="82.10" y2="792.50" stroke="#1c1c1c" stroke-width="1.3"/>
<line x1="102.20" y1="789.50" x2="102.20" y2="792.50" stroke="#1c1c1c" stroke-width="1.3"/>
<line x1="122.20" y1="789.50" x2="122.20" y2="792.50" stroke="#1c1c1c" stroke-width="1.3"/>
<line x1="142.30" y1="789.50" x2="142.30" y2="792.50" stroke="#1c1c1c" stroke-width="1.3"/>
<line x1="162.40" y1="789.50" x2="162.40" y2="792.50" stroke="#1c1c1c" stroke-width="1.3"/>
<line x1="182.40" y1="789.50" x2="182.40" y2="792.50" stroke="#1c1c1c" stroke-width="1.3"/>
<text x="0" y="0" font-size="7.9" font-weight="bold" text-anchor="end" transform="translate(65.60 800.90) rotate(-45) scale(1 1.12)">engraftment</text>
<text x="0" y="0" font-size="7.9" font-weight="bold" text-anchor="end" transform="translate(85.70 800.90) rotate(-45) scale(1 1.12)">28d</text>
<text x="0" y="0" font-size="7.9" font-weight="bold" text-anchor="end" transform="translate(105.80 800.90) rotate(-45) scale(1 1.12)">35d</text>
<text x="0" y="0" font-size="7.9" font-weight="bold" text-anchor="end" transform="translate(125.80 800.90) rotate(-45) scale(1 1.12)">49d</text>
<text x="0" y="0" font-size="7.9" font-weight="bold" text-anchor="end" transform="translate(145.90 800.90) rotate(-45) scale(1 1.12)">63d</text>
<text x="0" y="0" font-size="7.9" font-weight="bold" text-anchor="end" transform="translate(166.00 800.90) rotate(-45) scale(1 1.12)">77d</text>
<text x="0" y="0" font-size="7.9" font-weight="bold" text-anchor="end" transform="translate(186.00 800.90) rotate(-45) scale(1 1.12)">91d</text>
<text x="118.90" y="842.30" font-size="7.8" font-weight="bold" text-anchor="middle">days after transplantation</text>
<line x1="62.00" y1="721.30" x2="62.00" y2="739.50" stroke="#1c1c1c" stroke-width="1.35"/>
<line x1="60.00" y1="721.30" x2="64.00" y2="721.30" stroke="#1c1c1c" stroke-width="1.35"/>
<line x1="60.00" y1="739.50" x2="64.00" y2="739.50" stroke="#1c1c1c" stroke-width="1.35"/>
<line x1="62.00" y1="749.50" x2="62.00" y2="766.30" stroke="#1c1c1c" stroke-width="1.35"/>
<line x1="60.00" y1="749.50" x2="64.00" y2="749.50" stroke="#1c1c1c" stroke-width="1.35"/>
<line x1="60.00" y1="766.30" x2="64.00" y2="766.30" stroke="#1c1c1c" stroke-width="1.35"/>
<line x1="62.00" y1="774.30" x2="62.00" y2="778.30" stroke="#1c1c1c" stroke-width="1.35"/>
<line x1="60.00" y1="774.30" x2="64.00" y2="774.30" stroke="#1c1c1c" stroke-width="1.35"/>
<line x1="60.00" y1="778.30" x2="64.00" y2="778.30" stroke="#1c1c1c" stroke-width="1.35"/>
<line x1="82.10" y1="756.30" x2="82.10" y2="776.00" stroke="#1c1c1c" stroke-width="1.35"/>
<line x1="80.10" y1="756.30" x2="84.10" y2="756.30" stroke="#1c1c1c" stroke-width="1.35"/>
<line x1="80.10" y1="776.00" x2="84.10" y2="776.00" stroke="#1c1c1c" stroke-width="1.35"/>
<line x1="82.10" y1="775.80" x2="82.10" y2="782.00" stroke="#1c1c1c" stroke-width="1.35"/>
<line x1="80.10" y1="775.80" x2="84.10" y2="775.80" stroke="#1c1c1c" stroke-width="1.35"/>
<line x1="80.10" y1="782.00" x2="84.10" y2="782.00" stroke="#1c1c1c" stroke-width="1.35"/>
<line x1="82.10" y1="703.80" x2="82.10" y2="720.00" stroke="#1c1c1c" stroke-width="1.35"/>
<line x1="80.10" y1="703.80" x2="84.10" y2="703.80" stroke="#1c1c1c" stroke-width="1.35"/>
<line x1="80.10" y1="720.00" x2="84.10" y2="720.00" stroke="#1c1c1c" stroke-width="1.35"/>
<line x1="102.20" y1="772.00" x2="102.20" y2="783.00" stroke="#1c1c1c" stroke-width="1.35"/>
<line x1="100.20" y1="772.00" x2="104.20" y2="772.00" stroke="#1c1c1c" stroke-width="1.35"/>
<line x1="100.20" y1="783.00" x2="104.20" y2="783.00" stroke="#1c1c1c" stroke-width="1.35"/>
<line x1="102.20" y1="764.00" x2="102.20" y2="776.00" stroke="#1c1c1c" stroke-width="1.35"/>
<line x1="100.20" y1="764.00" x2="104.20" y2="764.00" stroke="#1c1c1c" stroke-width="1.35"/>
<line x1="100.20" y1="776.00" x2="104.20" y2="776.00" stroke="#1c1c1c" stroke-width="1.35"/>
<line x1="102.20" y1="743.90" x2="102.20" y2="767.50" stroke="#1c1c1c" stroke-width="1.35"/>
<line x1="100.20" y1="743.90" x2="104.20" y2="743.90" stroke="#1c1c1c" stroke-width="1.35"/>
<line x1="100.20" y1="767.50" x2="104.20" y2="767.50" stroke="#1c1c1c" stroke-width="1.35"/>
<line x1="122.20" y1="770.00" x2="122.20" y2="779.00" stroke="#1c1c1c" stroke-width="1.35"/>
<line x1="120.20" y1="770.00" x2="124.20" y2="770.00" stroke="#1c1c1c" stroke-width="1.35"/>
<line x1="120.20" y1="779.00" x2="124.20" y2="779.00" stroke="#1c1c1c" stroke-width="1.35"/>
<line x1="122.20" y1="780.00" x2="122.20" y2="786.50" stroke="#1c1c1c" stroke-width="1.35"/>
<line x1="120.20" y1="780.00" x2="124.20" y2="780.00" stroke="#1c1c1c" stroke-width="1.35"/>
<line x1="120.20" y1="786.50" x2="124.20" y2="786.50" stroke="#1c1c1c" stroke-width="1.35"/>
<line x1="122.20" y1="754.50" x2="122.20" y2="766.70" stroke="#1c1c1c" stroke-width="1.35"/>
<line x1="120.20" y1="754.50" x2="124.20" y2="754.50" stroke="#1c1c1c" stroke-width="1.35"/>
<line x1="120.20" y1="766.70" x2="124.20" y2="766.70" stroke="#1c1c1c" stroke-width="1.35"/>
<line x1="142.30" y1="764.20" x2="142.30" y2="782.80" stroke="#1c1c1c" stroke-width="1.35"/>
<line x1="140.30" y1="764.20" x2="144.30" y2="764.20" stroke="#1c1c1c" stroke-width="1.35"/>
<line x1="140.30" y1="782.80" x2="144.30" y2="782.80" stroke="#1c1c1c" stroke-width="1.35"/>
<line x1="142.30" y1="778.00" x2="142.30" y2="784.00" stroke="#1c1c1c" stroke-width="1.35"/>
<line x1="140.30" y1="778.00" x2="144.30" y2="778.00" stroke="#1c1c1c" stroke-width="1.35"/>
<line x1="140.30" y1="784.00" x2="144.30" y2="784.00" stroke="#1c1c1c" stroke-width="1.35"/>
<line x1="142.30" y1="777.00" x2="142.30" y2="782.00" stroke="#1c1c1c" stroke-width="1.35"/>
<line x1="140.30" y1="777.00" x2="144.30" y2="777.00" stroke="#1c1c1c" stroke-width="1.35"/>
<line x1="140.30" y1="782.00" x2="144.30" y2="782.00" stroke="#1c1c1c" stroke-width="1.35"/>
<line x1="162.40" y1="756.60" x2="162.40" y2="776.00" stroke="#1c1c1c" stroke-width="1.35"/>
<line x1="160.40" y1="756.60" x2="164.40" y2="756.60" stroke="#1c1c1c" stroke-width="1.35"/>
<line x1="160.40" y1="776.00" x2="164.40" y2="776.00" stroke="#1c1c1c" stroke-width="1.35"/>
<line x1="162.40" y1="767.00" x2="162.40" y2="777.00" stroke="#1c1c1c" stroke-width="1.35"/>
<line x1="160.40" y1="767.00" x2="164.40" y2="767.00" stroke="#1c1c1c" stroke-width="1.35"/>
<line x1="160.40" y1="777.00" x2="164.40" y2="777.00" stroke="#1c1c1c" stroke-width="1.35"/>
<line x1="162.40" y1="768.00" x2="162.40" y2="782.40" stroke="#1c1c1c" stroke-width="1.35"/>
<line x1="160.40" y1="768.00" x2="164.40" y2="768.00" stroke="#1c1c1c" stroke-width="1.35"/>
<line x1="160.40" y1="782.40" x2="164.40" y2="782.40" stroke="#1c1c1c" stroke-width="1.35"/>
<line x1="182.40" y1="776.40" x2="182.40" y2="784.00" stroke="#1c1c1c" stroke-width="1.35"/>
<line x1="180.40" y1="776.40" x2="184.40" y2="776.40" stroke="#1c1c1c" stroke-width="1.35"/>
<line x1="180.40" y1="784.00" x2="184.40" y2="784.00" stroke="#1c1c1c" stroke-width="1.35"/>
<line x1="182.40" y1="778.00" x2="182.40" y2="783.00" stroke="#1c1c1c" stroke-width="1.35"/>
<line x1="180.40" y1="778.00" x2="184.40" y2="778.00" stroke="#1c1c1c" stroke-width="1.35"/>
<line x1="180.40" y1="783.00" x2="184.40" y2="783.00" stroke="#1c1c1c" stroke-width="1.35"/>
<line x1="182.40" y1="784.00" x2="182.40" y2="788.50" stroke="#1c1c1c" stroke-width="1.35"/>
<line x1="180.40" y1="784.00" x2="184.40" y2="784.00" stroke="#1c1c1c" stroke-width="1.35"/>
<line x1="180.40" y1="788.50" x2="184.40" y2="788.50" stroke="#1c1c1c" stroke-width="1.35"/>
<polyline points="62.00,730.00 82.10,766.30 102.20,777.70 122.20,774.60 142.30,773.50 162.40,766.40 182.40,781.20" fill="none" stroke="#1c1c1c" stroke-width="1.3" stroke-linejoin="round" stroke-dasharray="1.7,1.5"/>
<polyline points="62.00,758.00 82.10,778.80 102.20,769.90 122.20,783.20 142.30,781.10 162.40,772.70 182.40,783.20" fill="none" stroke="#1c1c1c" stroke-width="1.3" stroke-linejoin="round" stroke-dasharray="3.6,1.8"/>
<polyline points="62.00,776.30 82.10,713.00 102.20,755.70 122.20,760.80 142.30,779.40 162.40,774.90 182.40,786.00" fill="none" stroke="#1c1c1c" stroke-width="1.5" stroke-linejoin="round"/>
<circle cx="62.00" cy="730.00" r="1.93" fill="#1c1c1c"/>
<circle cx="82.10" cy="766.30" r="1.93" fill="#1c1c1c"/>
<circle cx="102.20" cy="777.70" r="1.93" fill="#1c1c1c"/>
<circle cx="122.20" cy="774.60" r="1.93" fill="#1c1c1c"/>
<circle cx="142.30" cy="773.50" r="1.93" fill="#1c1c1c"/>
<circle cx="162.40" cy="766.40" r="1.93" fill="#1c1c1c"/>
<circle cx="182.40" cy="781.20" r="1.93" fill="#1c1c1c"/>
<rect x="60.08" y="756.08" width="3.85" height="3.85" fill="#1c1c1c"/>
<rect x="80.17" y="776.88" width="3.85" height="3.85" fill="#1c1c1c"/>
<rect x="100.28" y="767.98" width="3.85" height="3.85" fill="#1c1c1c"/>
<rect x="120.28" y="781.28" width="3.85" height="3.85" fill="#1c1c1c"/>
<rect x="140.38" y="779.18" width="3.85" height="3.85" fill="#1c1c1c"/>
<rect x="160.47" y="770.78" width="3.85" height="3.85" fill="#1c1c1c"/>
<rect x="180.47" y="781.28" width="3.85" height="3.85" fill="#1c1c1c"/>
<polygon points="62.00,774.04 64.25,778.10 59.74,778.10" fill="#1c1c1c"/>
<polygon points="82.10,710.75 84.35,714.80 79.84,714.80" fill="#1c1c1c"/>
<polygon points="102.20,753.45 104.45,757.50 99.95,757.50" fill="#1c1c1c"/>
<polygon points="122.20,758.54 124.45,762.60 119.95,762.60" fill="#1c1c1c"/>
<polygon points="142.30,777.14 144.56,781.20 140.05,781.20" fill="#1c1c1c"/>
<polygon points="162.40,772.64 164.66,776.70 160.15,776.70" fill="#1c1c1c"/>
<polygon points="182.40,783.75 184.66,787.80 180.15,787.80" fill="#1c1c1c"/>
<line x1="188.90" y1="688.80" x2="200.00" y2="688.80" stroke="#1c1c1c" stroke-width="1.1" stroke-dasharray="1.6,1.6"/>
<circle cx="194.50" cy="688.80" r="1.40" fill="#1c1c1c"/>
<line x1="188.90" y1="700.80" x2="200.00" y2="700.80" stroke="#1c1c1c" stroke-width="1.1" stroke-dasharray="3.4,1.8"/>
<rect x="193.10" y="699.40" width="2.80" height="2.80" fill="#1c1c1c"/>
<line x1="188.90" y1="712.30" x2="200.00" y2="712.30" stroke="#1c1c1c" stroke-width="1.3"/>
<polygon points="194.50,710.66 196.14,713.61 192.86,713.61" fill="#1c1c1c"/>
<text x="206.30" y="691.60" font-size="7.6" font-weight="normal" text-anchor="start" style="stroke-width:0.08px">no-aGVHD</text>
<text x="206.30" y="703.60" font-size="7.6" font-weight="normal" text-anchor="start" style="stroke-width:0.08px">aGHVD 1-2</text>
<text x="206.30" y="715.10" font-size="7.6" font-weight="normal" text-anchor="start" style="stroke-width:0.08px">aGHVD 3-4</text>
<line x1="307.90" y1="690.65" x2="307.90" y2="790.60" stroke="#1c1c1c" stroke-width="1.3"/>
<line x1="304.90" y1="691.25" x2="307.90" y2="691.25" stroke="#1c1c1c" stroke-width="1.3"/>
<text x="0" y="0" font-size="7.5" font-weight="bold" text-anchor="end" transform="translate(303.40 694.39) rotate(0) scale(1 1.17)">25</text>
<line x1="304.90" y1="711.00" x2="307.90" y2="711.00" stroke="#1c1c1c" stroke-width="1.3"/>
<text x="0" y="0" font-size="7.5" font-weight="bold" text-anchor="end" transform="translate(303.40 714.14) rotate(0) scale(1 1.17)">20</text>
<line x1="304.90" y1="730.75" x2="307.90" y2="730.75" stroke="#1c1c1c" stroke-width="1.3"/>
<text x="0" y="0" font-size="7.5" font-weight="bold" text-anchor="end" transform="translate(303.40 733.89) rotate(0) scale(1 1.17)">15</text>
<line x1="304.90" y1="750.50" x2="307.90" y2="750.50" stroke="#1c1c1c" stroke-width="1.3"/>
<text x="0" y="0" font-size="7.5" font-weight="bold" text-anchor="end" transform="translate(303.40 753.64) rotate(0) scale(1 1.17)">10</text>
<line x1="304.90" y1="770.25" x2="307.90" y2="770.25" stroke="#1c1c1c" stroke-width="1.3"/>
<text x="0" y="0" font-size="7.5" font-weight="bold" text-anchor="end" transform="translate(303.40 773.39) rotate(0) scale(1 1.17)">5</text>
<line x1="304.90" y1="790.00" x2="307.90" y2="790.00" stroke="#1c1c1c" stroke-width="1.3"/>
<text x="0" y="0" font-size="7.5" font-weight="bold" text-anchor="end" transform="translate(303.40 793.14) rotate(0) scale(1 1.17)">0</text>
<text x="0" y="0" font-size="8.3" font-weight="bold" text-anchor="middle" transform="translate(277.42 741.00) rotate(-90) scale(1 1.15)">MDSC%</text>
<line x1="307.30" y1="790.00" x2="474.50" y2="790.00" stroke="#1c1c1c" stroke-width="1.3"/>
<line x1="318.30" y1="790.00" x2="318.30" y2="793.00" stroke="#1c1c1c" stroke-width="1.3"/>
<line x1="339.00" y1="790.00" x2="339.00" y2="793.00" stroke="#1c1c1c" stroke-width="1.3"/>
<line x1="359.80" y1="790.00" x2="359.80" y2="793.00" stroke="#1c1c1c" stroke-width="1.3"/>
<line x1="380.40" y1="790.00" x2="380.40" y2="793.00" stroke="#1c1c1c" stroke-width="1.3"/>
<line x1="400.90" y1="790.00" x2="400.90" y2="793.00" stroke="#1c1c1c" stroke-width="1.3"/>
<line x1="421.50" y1="790.00" x2="421.50" y2="793.00" stroke="#1c1c1c" stroke-width="1.3"/>
<line x1="442.50" y1="790.00" x2="442.50" y2="793.00" stroke="#1c1c1c" stroke-width="1.3"/>
<text x="0" y="0" font-size="8.5" font-weight="bold" text-anchor="end" transform="translate(321.90 802.10) rotate(-45) scale(1 1.12)">engraftment</text>
<text x="0" y="0" font-size="8.5" font-weight="bold" text-anchor="end" transform="translate(342.60 802.10) rotate(-45) scale(1 1.12)">28d</text>
<text x="0" y="0" font-size="8.5" font-weight="bold" text-anchor="end" transform="translate(363.40 802.10) rotate(-45) scale(1 1.12)">35d</text>
<text x="0" y="0" font-size="8.5" font-weight="bold" text-anchor="end" transform="translate(384.00 802.10) rotate(-45) scale(1 1.12)">49d</text>
<text x="0" y="0" font-size="8.5" font-weight="bold" text-anchor="end" transform="translate(404.50 802.10) rotate(-45) scale(1 1.12)">63d</text>
<text x="0" y="0" font-size="8.5" font-weight="bold" text-anchor="end" transform="translate(425.10 802.10) rotate(-45) scale(1 1.12)">77d</text>
<text x="0" y="0" font-size="8.5" font-weight="bold" text-anchor="end" transform="translate(446.10 802.10) rotate(-45) scale(1 1.12)">91d</text>
<text x="376.90" y="844.60" font-size="8.25" font-weight="bold" text-anchor="middle">days after transplantation</text>
<line x1="318.30" y1="773.50" x2="318.30" y2="777.50" stroke="#1c1c1c" stroke-width="1.35"/>
<line x1="316.30" y1="773.50" x2="320.30" y2="773.50" stroke="#1c1c1c" stroke-width="1.35"/>
<line x1="316.30" y1="777.50" x2="320.30" y2="777.50" stroke="#1c1c1c" stroke-width="1.35"/>
<line x1="318.30" y1="732.50" x2="318.30" y2="747.50" stroke="#1c1c1c" stroke-width="1.35"/>
<line x1="316.30" y1="732.50" x2="320.30" y2="732.50" stroke="#1c1c1c" stroke-width="1.35"/>
<line x1="316.30" y1="747.50" x2="320.30" y2="747.50" stroke="#1c1c1c" stroke-width="1.35"/>
<line x1="339.00" y1="703.00" x2="339.00" y2="720.00" stroke="#1c1c1c" stroke-width="1.35"/>
<line x1="337.00" y1="703.00" x2="341.00" y2="703.00" stroke="#1c1c1c" stroke-width="1.35"/>
<line x1="337.00" y1="720.00" x2="341.00" y2="720.00" stroke="#1c1c1c" stroke-width="1.35"/>
<line x1="339.00" y1="764.50" x2="339.00" y2="778.80" stroke="#1c1c1c" stroke-width="1.35"/>
<line x1="337.00" y1="764.50" x2="341.00" y2="764.50" stroke="#1c1c1c" stroke-width="1.35"/>
<line x1="337.00" y1="778.80" x2="341.00" y2="778.80" stroke="#1c1c1c" stroke-width="1.35"/>
<line x1="359.80" y1="743.80" x2="359.80" y2="767.50" stroke="#1c1c1c" stroke-width="1.35"/>
<line x1="357.80" y1="743.80" x2="361.80" y2="743.80" stroke="#1c1c1c" stroke-width="1.35"/>
<line x1="357.80" y1="767.50" x2="361.80" y2="767.50" stroke="#1c1c1c" stroke-width="1.35"/>
<line x1="359.80" y1="768.00" x2="359.80" y2="783.00" stroke="#1c1c1c" stroke-width="1.35"/>
<line x1="357.80" y1="768.00" x2="361.80" y2="768.00" stroke="#1c1c1c" stroke-width="1.35"/>
<line x1="357.80" y1="783.00" x2="361.80" y2="783.00" stroke="#1c1c1c" stroke-width="1.35"/>
<line x1="380.40" y1="754.00" x2="380.40" y2="765.40" stroke="#1c1c1c" stroke-width="1.35"/>
<line x1="378.40" y1="754.00" x2="382.40" y2="754.00" stroke="#1c1c1c" stroke-width="1.35"/>
<line x1="378.40" y1="765.40" x2="382.40" y2="765.40" stroke="#1c1c1c" stroke-width="1.35"/>
<line x1="380.40" y1="774.00" x2="380.40" y2="781.50" stroke="#1c1c1c" stroke-width="1.35"/>
<line x1="378.40" y1="774.00" x2="382.40" y2="774.00" stroke="#1c1c1c" stroke-width="1.35"/>
<line x1="378.40" y1="781.50" x2="382.40" y2="781.50" stroke="#1c1c1c" stroke-width="1.35"/>
<line x1="400.90" y1="771.00" x2="400.90" y2="784.50" stroke="#1c1c1c" stroke-width="1.35"/>
<line x1="398.90" y1="771.00" x2="402.90" y2="771.00" stroke="#1c1c1c" stroke-width="1.35"/>
<line x1="398.90" y1="784.50" x2="402.90" y2="784.50" stroke="#1c1c1c" stroke-width="1.35"/>
<line x1="400.90" y1="771.00" x2="400.90" y2="783.00" stroke="#1c1c1c" stroke-width="1.35"/>
<line x1="398.90" y1="771.00" x2="402.90" y2="771.00" stroke="#1c1c1c" stroke-width="1.35"/>
<line x1="398.90" y1="783.00" x2="402.90" y2="783.00" stroke="#1c1c1c" stroke-width="1.35"/>
<line x1="421.50" y1="768.00" x2="421.50" y2="781.40" stroke="#1c1c1c" stroke-width="1.35"/>
<line x1="419.50" y1="768.00" x2="423.50" y2="768.00" stroke="#1c1c1c" stroke-width="1.35"/>
<line x1="419.50" y1="781.40" x2="423.50" y2="781.40" stroke="#1c1c1c" stroke-width="1.35"/>
<line x1="421.50" y1="762.90" x2="421.50" y2="775.50" stroke="#1c1c1c" stroke-width="1.35"/>
<line x1="419.50" y1="762.90" x2="423.50" y2="762.90" stroke="#1c1c1c" stroke-width="1.35"/>
<line x1="419.50" y1="775.50" x2="423.50" y2="775.50" stroke="#1c1c1c" stroke-width="1.35"/>
<line x1="442.50" y1="782.00" x2="442.50" y2="786.00" stroke="#1c1c1c" stroke-width="1.35"/>
<line x1="440.50" y1="782.00" x2="444.50" y2="782.00" stroke="#1c1c1c" stroke-width="1.35"/>
<line x1="440.50" y1="786.00" x2="444.50" y2="786.00" stroke="#1c1c1c" stroke-width="1.35"/>
<line x1="442.50" y1="782.00" x2="442.50" y2="785.00" stroke="#1c1c1c" stroke-width="1.35"/>
<line x1="440.50" y1="782.00" x2="444.50" y2="782.00" stroke="#1c1c1c" stroke-width="1.35"/>
<line x1="440.50" y1="785.00" x2="444.50" y2="785.00" stroke="#1c1c1c" stroke-width="1.35"/>
<polyline points="318.30,740.00 339.00,771.30 359.80,775.00 380.40,777.70 400.90,777.10 421.50,769.40 442.50,783.80" fill="none" stroke="#1c1c1c" stroke-width="1.3" stroke-linejoin="round" stroke-dasharray="3.6,1.8"/>
<polyline points="318.30,775.50 339.00,711.80 359.80,755.00 380.40,760.50 400.90,779.80 421.50,774.60 442.50,783.80" fill="none" stroke="#1c1c1c" stroke-width="1.5" stroke-linejoin="round"/>
<circle cx="318.30" cy="740.00" r="1.93" fill="#1c1c1c"/>
<circle cx="339.00" cy="771.30" r="1.93" fill="#1c1c1c"/>
<circle cx="359.80" cy="775.00" r="1.93" fill="#1c1c1c"/>
<circle cx="380.40" cy="777.70" r="1.93" fill="#1c1c1c"/>
<circle cx="400.90" cy="777.10" r="1.93" fill="#1c1c1c"/>
<circle cx="421.50" cy="769.40" r="1.93" fill="#1c1c1c"/>
<circle cx="442.50" cy="783.80" r="1.93" fill="#1c1c1c"/>
<rect x="316.38" y="773.58" width="3.85" height="3.85" fill="#1c1c1c"/>
<rect x="337.07" y="709.88" width="3.85" height="3.85" fill="#1c1c1c"/>
<rect x="357.88" y="753.08" width="3.85" height="3.85" fill="#1c1c1c"/>
<rect x="378.47" y="758.58" width="3.85" height="3.85" fill="#1c1c1c"/>
<rect x="398.97" y="777.88" width="3.85" height="3.85" fill="#1c1c1c"/>
<rect x="419.57" y="772.68" width="3.85" height="3.85" fill="#1c1c1c"/>
<rect x="440.57" y="781.88" width="3.85" height="3.85" fill="#1c1c1c"/>
<line x1="448.60" y1="688.50" x2="461.50" y2="688.50" stroke="#1c1c1c" stroke-width="1.1" stroke-dasharray="3.0,1.8"/>
<circle cx="455.00" cy="688.50" r="1.40" fill="#1c1c1c"/>
<line x1="448.60" y1="700.80" x2="461.50" y2="700.80" stroke="#1c1c1c" stroke-width="1.3"/>
<rect x="453.60" y="699.40" width="2.80" height="2.80" fill="#1c1c1c"/>
<text x="467.50" y="691.40" font-size="8.15" font-weight="normal" text-anchor="start" style="stroke-width:0.08px">aGVHD 0-2</text>
<text x="467.50" y="703.70" font-size="8.15" font-weight="normal" text-anchor="start" style="stroke-width:0.08px">aGVHD 3-4</text>
</svg>
</body></html>
